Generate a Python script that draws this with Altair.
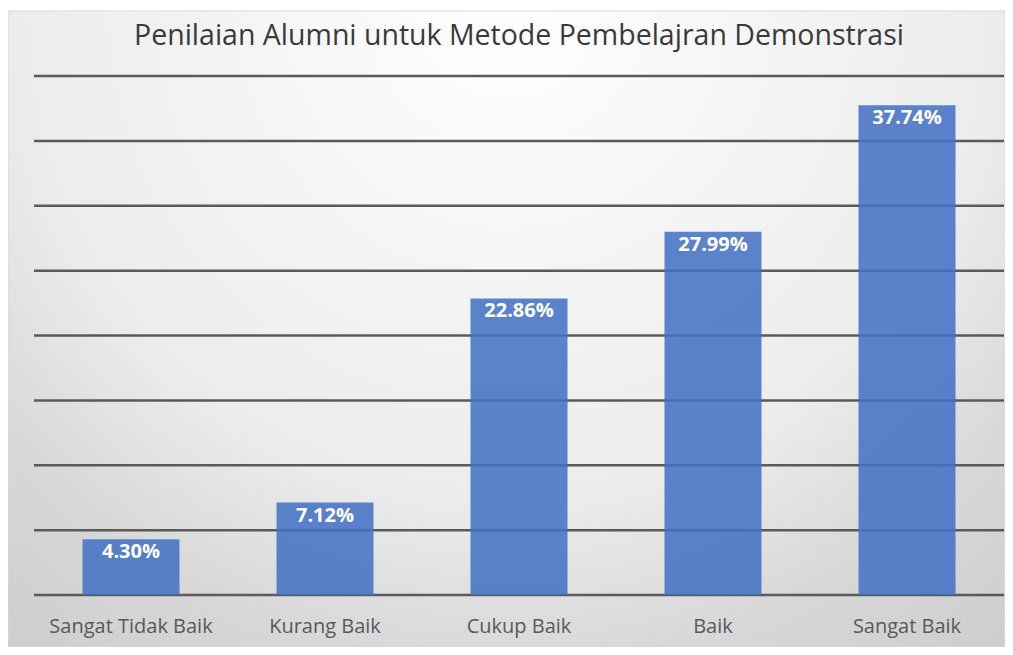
import altair as alt
import pandas as pd

categories = ["Sangat Tidak Baik", "Kurang Baik", "Cukup Baik", "Baik", "Sangat Baik"]
values = [4.30, 7.12, 22.86, 27.99, 37.74]
labels = ["4.30%", "7.12%", "22.86%", "27.99%", "37.74%"]
grid_values = [0, 5, 10, 15, 20, 25, 30, 35, 40]

df = pd.DataFrame({"kategori": categories, "nilai": values, "label": labels})
gdf = pd.DataFrame({"y": grid_values})
bgdf = pd.DataFrame({"a": [0]})

W, H = 970, 519
PAD = {"left": 26, "top": 68, "right": 1, "bottom": 52}

y_scale = alt.Scale(domain=[0, 40], nice=False, zero=True)
x_enc = alt.X(
    "kategori:N",
    sort=categories,
    scale=alt.Scale(paddingInner=0.5, paddingOuter=0.25),
    axis=alt.Axis(title=None, labelAngle=0, ticks=False, domain=False,
                  labelFontSize=20, labelColor="#595959", labelFont="Open Sans",
                  labelPadding=21, grid=False, zindex=1),
)

gradient = {
    "gradient": "radial",
    "x1": 0.5, "y1": 0.177, "r1": 0,
    "x2": 0.5, "y2": 0.177, "r2": 0.82,
    "stops": [
        {"offset": 0, "color": "#ffffff"},
        {"offset": 0.6, "color": "#ececec"},
        {"offset": 0.8, "color": "#d8d8d8"},
        {"offset": 1, "color": "#cdcdcd"},
    ],
}

bg = alt.Chart(bgdf).mark_rect(fill=gradient, stroke="#d9d9d9", strokeWidth=1).encode(
    x=alt.value(-PAD["left"]), x2=alt.value(W + PAD["right"]),
    y=alt.value(-65), y2=alt.value(H + PAD["bottom"]),
)

grid = alt.Chart(gdf).mark_rule(color="#5a5a5a", strokeWidth=2.5).encode(
    y=alt.Y("y:Q", scale=y_scale, axis=None)
)

bars = alt.Chart(df).mark_bar(color="#4472C4", opacity=0.87).encode(
    x=x_enc, y=alt.Y("nilai:Q", scale=y_scale, axis=None)
)

text = alt.Chart(df).mark_text(baseline="top", dy=3, color="white", fontWeight="bold",
                               fontSize=20, font="Open Sans").encode(
    x=x_enc, y=alt.Y("nilai:Q", scale=y_scale, axis=None), text="label:N"
)

chart = alt.layer(bg, grid, bars, text).properties(
    width=W, height=H,
    title=alt.TitleParams("Penilaian Alumni untuk Metode Pembelajran Demonstrasi",
                          fontSize=28.5, font="Open Sans", fontWeight="normal",
                          color="#3a3a3a", offset=-40, anchor="middle", frame="group",
                          zindex=1),
    padding=PAD,
    autosize="none",
).configure_view(stroke=None)

chart.save("out.html", embed_options={"renderer": "svg", "actions": False})
